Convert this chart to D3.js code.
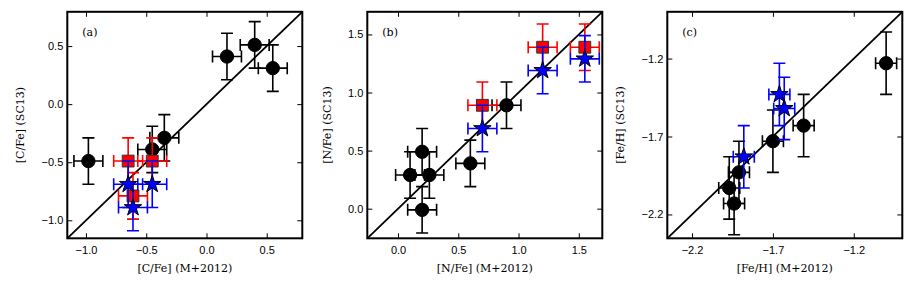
<!DOCTYPE html>
<html>
<head>
<meta charset="utf-8">
<script src="https://cdn.jsdelivr.net/npm/d3@7"></script>
<style>
  body { margin: 0; background: #fff; }
  svg { display: block; font-family: "DejaVu Serif", serif; }
  .tick line { stroke: #000; stroke-width: 1; }
  .tick text { font-size: 11px; fill: #000; }
</style>
</head>
<body>
<script>
// panel (a) [C/Fe]
var cfeCircX = [-0.98, 0.17, 0.40, 0.55, -0.35, -0.45];
var cfeCircY = [-0.49, 0.41, 0.51, 0.31, -0.29, -0.39];
var cfeSqX = [-0.65, -0.45, -0.61];
var cfeSqY = [-0.49, -0.49, -0.79];
var cfeStarX = [-0.65, -0.45, -0.61];
var cfeStarY = [-0.69, -0.69, -0.89];
var cfeErr = [0.12, 0.2]; // x, y
var cfeTicks = [-1.0, -0.5, 0.0, 0.5];
var cfeDomain = [-1.155, 0.795];

// panel (b) [N/Fe]
var nfeCircX = [0.10, 0.20, 0.26, 0.20, 0.60, 0.90];
var nfeCircY = [0.29, 0.49, 0.29, -0.01, 0.39, 0.89];
var nfeSqX = [0.70, 1.20, 1.55];
var nfeSqY = [0.89, 1.39, 1.39];
var nfeStarX = [0.70, 1.20, 1.55];
var nfeStarY = [0.69, 1.19, 1.29];
var nfeErr = [0.12, 0.2];
var nfeTicks = [0.0, 0.5, 1.0, 1.5];
var nfeDomain = [-0.255, 1.695];

// panel (c) [Fe/H]
var fehCircX = [-1.00, -1.51, -1.70, -1.91, -1.97, -1.94];
var fehCircY = [-1.23, -1.63, -1.73, -1.93, -2.03, -2.13];
var fehStarX = [-1.66, -1.63, -1.88];
var fehStarY = [-1.43, -1.52, -1.83];
var fehErr = [0.065, 0.2];
var fehTicks = [-2.2, -1.7, -1.2];
var fehDomain = [-2.353, -0.900];

var panelNames = ["(a)", "(b)", "(c)"];
var xTitles = ["[C/Fe] (M+2012)", "[N/Fe] (M+2012)", "[Fe/H] (M+2012)"];
var yTitles = ["[C/Fe] (SC13)", "[N/Fe] (SC13)", "[Fe/H] (SC13)"];

var width = 915, height = 289;
var svg = d3.select("body").append("svg")
  .attr("width", width)
  .attr("height", height);

var pw = 235, ph = 226.5, top0 = 11.8;
var lefts = [67.3, 367.3, 667.3];

var fmt = function(d){ return d3.format(".1f")(d).replace("-", "\u2212"); };

function zip(xs, ys){
  return xs.map(function(x, i){ return {x: x, y: ys[i]}; });
}

function drawPanel(i, domain, ticks, err, series){
  var g = svg.append("g").attr("transform", "translate(" + lefts[i] + "," + top0 + ")");
  var x = d3.scaleLinear().domain(domain).range([0, pw]);
  var y = d3.scaleLinear().domain(domain).range([ph, 0]);

  //axes, ticks pointing in
  g.append("g").attr("transform", "translate(0," + ph + ")")
    .call(d3.axisBottom(x).tickValues(ticks).tickFormat(fmt).tickSizeInner(-5).tickSizeOuter(0).tickPadding(8));
  g.append("g")
    .call(d3.axisTop(x).tickValues(ticks).tickFormat("").tickSizeInner(-5).tickSizeOuter(0));
  var yAx = g.append("g")
    .call(d3.axisLeft(y).tickValues(ticks).tickFormat(fmt).tickSizeInner(-5).tickSizeOuter(0).tickPadding(4));
  g.append("g").attr("transform", "translate(" + pw + ",0)")
    .call(d3.axisRight(y).tickValues(ticks).tickFormat("").tickSizeInner(-5).tickSizeOuter(0));
  g.selectAll(".domain").remove();
  g.selectAll(".tick text").attr("font-family", null).attr("font-size", null);

  //one-to-one line
  g.append("line")
    .attr("x1", x(domain[0])).attr("y1", y(domain[0]))
    .attr("x2", x(domain[1])).attr("y2", y(domain[1]))
    .attr("stroke", "#000").attr("stroke-width", 1.8);

  var cap = 6;
  series.forEach(function(s){
    var pts = zip(s.xs, s.ys);
    var eb = g.append("g").attr("stroke", s.bar).attr("stroke-width", 1.6).attr("fill", "none");
    pts.forEach(function(d){
      var xl = x(d.x - err[0]), xr = x(d.x + err[0]);
      var yt = y(d.y + err[1]), yb = y(d.y - err[1]);
      var cx = x(d.x), cy = y(d.y);
      eb.append("path").attr("d",
        "M" + xl + "," + cy + "H" + xr +
        "M" + cx + "," + yt + "V" + yb +
        "M" + xl + "," + (cy - cap) + "V" + (cy + cap) +
        "M" + xr + "," + (cy - cap) + "V" + (cy + cap) +
        "M" + (cx - cap) + "," + yt + "H" + (cx + cap) +
        "M" + (cx - cap) + "," + yb + "H" + (cx + cap));
    });
    g.selectAll(null).data(pts).enter().append("path")
      .attr("transform", function(d){ return "translate(" + x(d.x) + "," + y(d.y) + ")"; })
      .attr("d", d3.symbol().type(s.shape).size(s.size))
      .attr("fill", s.fill)
      .attr("stroke", s.edge)
      .attr("stroke-width", 1);
  });

  //frame
  g.append("rect").attr("width", pw).attr("height", ph)
    .attr("fill", "none").attr("stroke", "#000").attr("stroke-width", 2);

  g.append("text").attr("x", 15).attr("y", 24.5)
    .attr("font-size", 11).text(panelNames[i]);

  g.append("text").attr("x", pw / 2).attr("y", ph + 34)
    .attr("text-anchor", "middle").attr("font-size", 11).text(xTitles[i]);

  var bb = yAx.node().getBBox();
  g.append("text")
    .attr("transform", "translate(" + (bb.x - 21) + "," + (ph / 2) + ") rotate(-90)")
    .attr("text-anchor", "middle").attr("dy", "0.35em")
    .attr("font-size", 11).text(yTitles[i]);
}

var circ = function(xs, ys){ return {xs: xs, ys: ys, shape: d3.symbolCircle, size: 140, fill: "#000", edge: "#000", bar: "#000"}; };
var sq = function(xs, ys){ return {xs: xs, ys: ys, shape: d3.symbolSquare, size: 140, fill: "#ff0000", edge: "#333", bar: "#ff0000"}; };
var star = function(xs, ys){ return {xs: xs, ys: ys, shape: d3.symbolStar, size: 95, fill: "#0000ff", edge: "#000", bar: "#0000ff"}; };

drawPanel(0, cfeDomain, cfeTicks, cfeErr, [circ(cfeCircX, cfeCircY), sq(cfeSqX, cfeSqY), star(cfeStarX, cfeStarY)]);
drawPanel(1, nfeDomain, nfeTicks, nfeErr, [circ(nfeCircX, nfeCircY), sq(nfeSqX, nfeSqY), star(nfeStarX, nfeStarY)]);
drawPanel(2, fehDomain, fehTicks, fehErr, [circ(fehCircX, fehCircY), star(fehStarX, fehStarY)]);
</script>
</body>
</html>
